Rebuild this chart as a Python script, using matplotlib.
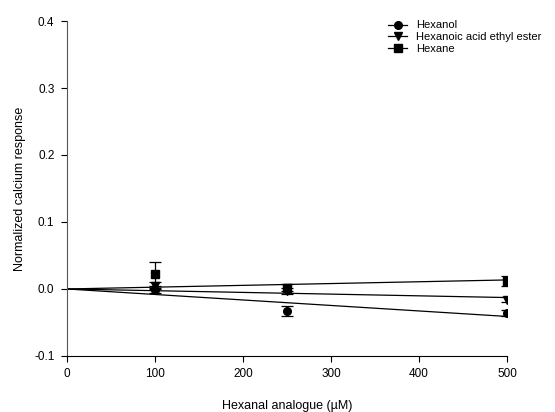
import numpy as np
import matplotlib
matplotlib.use("Agg")
import matplotlib.pyplot as plt

plt.rcParams.update({
    "font.family": ["Liberation Sans", "DejaVu Sans"],
    "font.size": 8,
})

conc = np.array([100, 250, 500])

hexanol = np.array([-0.002, -0.033, -0.036])
hexanol_err = np.array([0.004, 0.007, 0.004])

ester = np.array([0.005, -0.003, -0.016])
ester_err = np.array([0.005, 0.004, 0.004])

hexane = np.array([0.022, 0.002, 0.012])
hexane_err = np.array([0.018, 0.005, 0.008])

series = [
    ("Hexanol", hexanol, hexanol_err, "o"),
    ("Hexanoic acid ethyl ester", ester, ester_err, "v"),
    ("Hexane", hexane, hexane_err, "s"),
]

fig = plt.figure(figsize=(5.55, 4.12), dpi=100)
ax = fig.add_axes([0.1207, 0.136, 0.7928, 0.813])

xfit = np.array([0, 500])
handles = []
for label, y, err, marker in series:
    # linear regression through origin
    slope = np.sum(conc * y) / np.sum(conc * conc)
    ax.plot(xfit, slope * xfit, color="black", linewidth=0.9, zorder=2)
    ax.errorbar(conc, y, yerr=err, fmt="none", ecolor="black", elinewidth=0.9,
                capsize=4, capthick=0.9, zorder=3)
    ax.plot(conc, y, linestyle="none", marker=marker, color="black",
            markersize=5.5, zorder=4)
    h, = ax.plot([], [], color="black", linewidth=0.9, marker=marker, markersize=5.5,
                 label=label)
    handles.append(h)

ax.set_xlim(0, 500)
ax.set_ylim(-0.1, 0.4)
ax.set_xticks([0, 100, 200, 300, 400, 500])
ax.set_yticks([-0.1, 0.0, 0.1, 0.2, 0.3, 0.4])
ax.set_yticklabels(["-0.1", "0.0", "0.1", "0.2", "0.3", "0.4"])
ax.spines["top"].set_visible(False)
ax.spines["right"].set_visible(False)
ax.spines["left"].set_color("#555555")
ax.tick_params(direction="out", length=4, width=0.8, labelsize=8.5, pad=5)
ax.set_xlabel("Hexanal analogue (\u00b5M)", fontsize=9, labelpad=14)
ax.set_ylabel("Normalized calcium response", fontsize=9, labelpad=6)

ax.legend(handles=handles, loc="upper left", bbox_to_anchor=(0.72, 1.015),
          frameon=False, handlelength=1.7, handletextpad=0.8, labelspacing=0.15,
          fontsize=8, borderaxespad=0)

fig.savefig("out.png", dpi=100)
